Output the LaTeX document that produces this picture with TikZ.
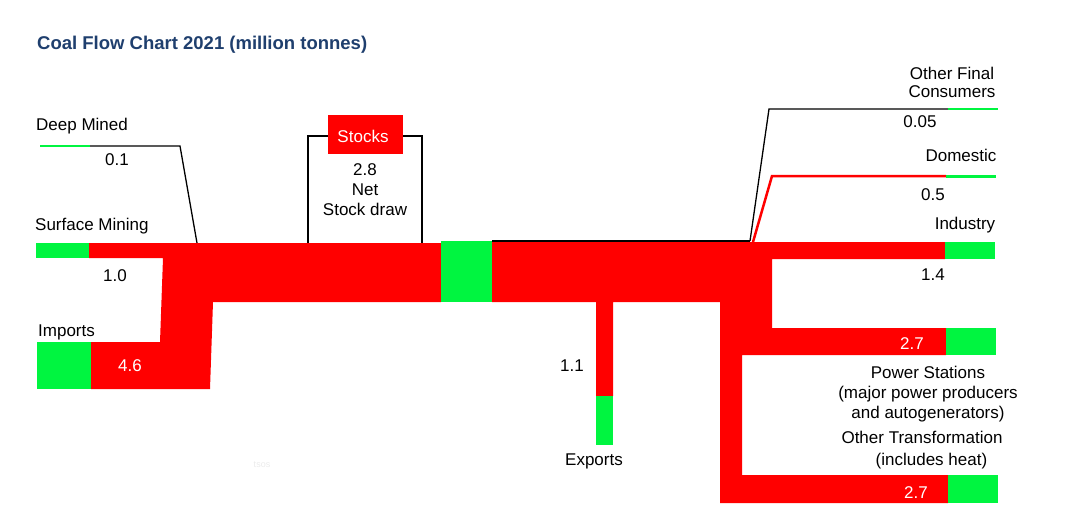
\documentclass[tikz,border=0pt]{standalone}
\usepackage{fontspec}
\setmainfont{Liberation Sans}
\definecolor{fred}{HTML}{FF0000}
\definecolor{fgreen}{HTML}{00F540}
\definecolor{ttl}{HTML}{1F3F6E}
\begin{document}
\begin{tikzpicture}[x=1pt,y=-1pt,
  lbl/.style={font=\fontsize{17}{20}\selectfont,inner sep=0pt},
  wlbl/.style={lbl,text=white},
  gbox/.style={fill=fgreen},
  rbox/.style={fill=fred},
  thin/.style={draw=black,line width=1.3pt}]
\useasboundingbox (0,0) rectangle (1087,531);
% title
\node[anchor=west,font=\bfseries\fontsize{18.5}{21}\selectfont,text=ttl,inner sep=0pt] (title) at (37,45) {Coal Flow Chart 2021 (million tonnes)};
% black thin lines
\coordinate (dm1) at (90,146); \coordinate (dm2) at (180,146); \coordinate (dm3) at (197,243);
\draw[thin] (dm1) -- (dm2) -- (dm3);
\draw[fgreen,line width=2.5pt] (40,146) -- (dm1);
\coordinate (sl) at (308,243); \coordinate (sr) at (422,243);
\draw[thin] (sl) |- (330,136);
\draw[thin] (sr) |- (400,136);
\node[rbox,minimum width=75pt,minimum height=39pt,inner sep=0pt] (stocks) at (365.5,134.5) {};
\node[wlbl] (stockst) at (363,136) {Stocks};
% left red network
\fill[fred] (89,243) -- (441,243) -- (441,302) -- (213,302) -- (210,389) -- (91,389) -- (91,342) -- (160,342) -- (163,258) -- (89,258) -- cycle;
\fill[gbox] (36,243) rectangle (89,258);
\fill[gbox] (37,342) rectangle (91,389);
\fill[gbox] (441,241) rectangle (492,302);
% right network
\draw[thin] (492,241) -- (750,241);
\fill[fred] (492,242) -- (945,242) -- (945,259) -- (772,259) -- (772,328) -- (946,328) -- (946,355) -- (742,355) -- (742,475) -- (948,475) -- (948,503) -- (720,503) -- (720,302) -- (613,302) -- (613,396) -- (596,396) -- (596,302) -- (492,302) -- cycle;
\fill[gbox] (945,242) rectangle (995,259);
\fill[gbox] (946,328) rectangle (996,355);
\fill[gbox] (948,475) rectangle (998,503);
\fill[gbox] (596,396) rectangle (613,445);
% other final consumers / domestic
\coordinate (of1) at (750,241); \coordinate (of2) at (769,109); \coordinate (of3) at (948,109);
\draw[thin] (of1) -- (of2) -- (of3);
\draw[fgreen,line width=2.5pt] (of3) -- (998,109);
\coordinate (do1) at (753,242); \coordinate (do2) at (772,176); \coordinate (do3) at (946,176);
\draw[fred,line width=2.5pt] (do1) -- (do2) -- (do3);
\draw[fgreen,line width=3pt] (do3) -- (996,176);
% labels
\node[lbl,anchor=west] (l1) at (36,126) {Deep Mined};
\node[lbl] (l2) at (117,160) {0.1};
\node[lbl,anchor=west] (l3) at (35,226) {Surface Mining};
\node[lbl] (l4) at (115,276) {1.0};
\node[lbl,anchor=west] (l5) at (38,332) {Imports};
\node[wlbl] (l6) at (130,366) {4.6};
\node[lbl,align=center] (l7) at (365,190) {2.8\\Net\\Stock draw};
\node[lbl] (l8) at (572,366) {1.1};
\node[lbl] (l9) at (594,461) {Exports};
\node[lbl,align=center,font=\fontsize{17}{18}\selectfont] (l10) at (952,82) {Other Final\\Consumers};
\node[lbl] (l11) at (920,122) {0.05};
\node[lbl] (l12) at (961,155) {Domestic};
\node[lbl] (l13) at (933,195) {0.5};
\node[lbl] (l14) at (965,225) {Industry};
\node[lbl] (l15) at (933,275) {1.4};
\node[wlbl] (l16) at (912,344) {2.7};
\node[lbl,align=center] (l17) at (928,394) {Power Stations\\(major power producers\\and autogenerators)};
\node[lbl,align=center,font=\fontsize{17}{22}\selectfont] (l18) at (922,450) {Other Transformation\\\ \ \ \ (includes heat)};
\node[wlbl] (l19) at (916,493) {2.7};
\node[inner sep=0pt,text=black!8,font=\fontsize{9}{10}\selectfont] (wm) at (262,465) {tsos};
\end{tikzpicture}
\end{document}
